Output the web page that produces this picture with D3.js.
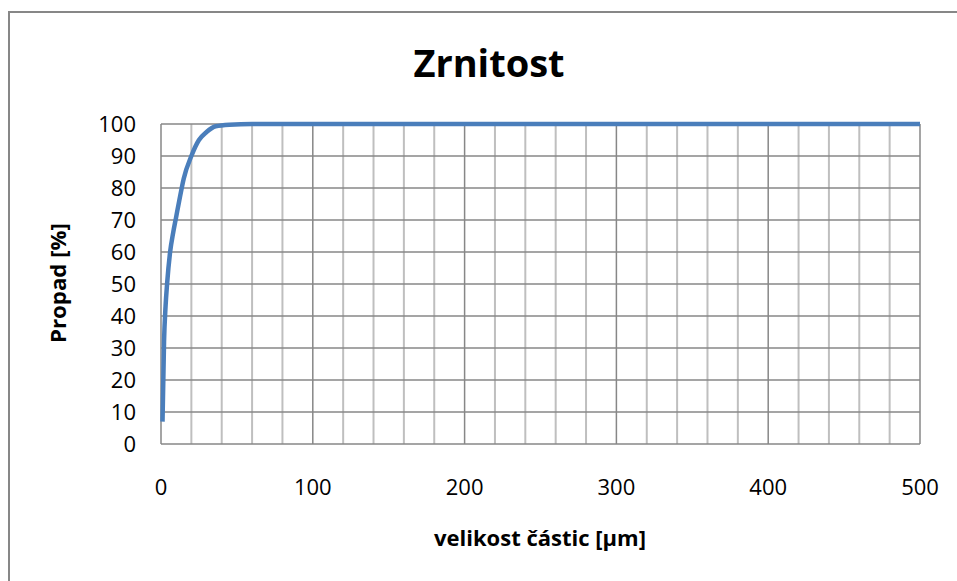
<!DOCTYPE html>
<html>
<head>
<meta charset="utf-8">
<script src="https://cdn.jsdelivr.net/npm/d3@7"></script>
<style>
  body { margin: 0; background: #fff; }
  text { font-family: "Open Sans", "Noto Sans", sans-serif; }
</style>
</head>
<body>
<div id="chart"></div>
<script>
// particle size [µm] and passing fraction [%]
let sizes = [1, 2, 3, 4, 6, 8, 10, 12, 15, 20, 25, 30, 36, 45, 60, 100, 200, 300, 400, 500];
let propad = [7, 32, 43, 50, 60, 66, 71, 76, 83, 90, 95, 97.5, 99.3, 99.8, 100, 100, 100, 100, 100, 100];
let xTicks = [0, 100, 200, 300, 400, 500];
let yTicks = [0, 10, 20, 30, 40, 50, 60, 70, 80, 90, 100];

let W = 957, H = 581;
let margin = { left: 161, top: 124 };
let chart_width = 920 - 161;
let chart_height = 444 - 124;

let svg = d3.select("#chart").append("svg")
  .attr("width", W)
  .attr("height", H);

// outer frame (only left and top edges are inside the picture)
svg.append("rect")
  .attr("x", 9).attr("y", 12)
  .attr("width", 1000).attr("height", 620)
  .attr("fill", "none")
  .attr("stroke", "#878787")
  .attr("stroke-width", 2);

let g = svg.append("g")
  .attr("transform", `translate(${margin.left},${margin.top})`);

let x = d3.scaleLinear().domain([0, 500]).range([0, chart_width]);
let y = d3.scaleLinear().domain([0, 100]).range([chart_height, 0]);

// minor vertical grid every 20
g.append("g").selectAll("line")
  .data(d3.range(20, 500, 20).filter(v => v % 100 !== 0))
  .enter().append("line")
  .attr("x1", d => x(d)).attr("x2", d => x(d))
  .attr("y1", 0).attr("y2", chart_height)
  .attr("stroke", "#bfbfbf")
  .attr("stroke-width", 2);

// major vertical grid
g.append("g").selectAll("line")
  .data(xTicks)
  .enter().append("line")
  .attr("x1", d => x(d)).attr("x2", d => x(d))
  .attr("y1", 0).attr("y2", chart_height)
  .attr("stroke", "#878787")
  .attr("stroke-width", 1.5);

// horizontal grid
g.append("g").selectAll("line")
  .data(yTicks)
  .enter().append("line")
  .attr("x1", 0).attr("x2", chart_width)
  .attr("y1", d => y(d)).attr("y2", d => y(d))
  .attr("stroke", "#878787")
  .attr("stroke-width", 1.5);

// tick labels
g.append("g").selectAll("text")
  .data(yTicks)
  .enter().append("text")
  .attr("x", -25)
  .attr("y", d => y(d))
  .attr("dy", "0.36em")
  .attr("text-anchor", "end")
  .attr("font-size", "22px")
  .text(d => d);

g.append("g").selectAll("text")
  .data(xTicks)
  .enter().append("text")
  .attr("x", d => x(d))
  .attr("y", chart_height + 51)
  .attr("text-anchor", "middle")
  .attr("font-size", "22px")
  .text(d => d);

// data line
let line = d3.line()
  .x((d, i) => x(sizes[i]))
  .y(d => y(d))
  .curve(d3.curveMonotoneX);

g.append("path")
  .datum(propad)
  .attr("d", line)
  .attr("fill", "none")
  .attr("stroke", "#4a7ebb")
  .attr("stroke-width", 4.5)
  .attr("stroke-linejoin", "round");

// titles
svg.append("text")
  .attr("x", 489).attr("y", 77)
  .attr("text-anchor", "middle")
  .attr("font-size", "38px")
  .attr("font-weight", "bold")
  .text("Zrnitost");

svg.append("text")
  .attr("x", 540).attr("y", 546)
  .attr("text-anchor", "middle")
  .attr("font-size", "21px")
  .attr("font-weight", "bold")
  .attr("textLength", 212)
  .attr("lengthAdjust", "spacingAndGlyphs")
  .text("velikost částic [µm]");

svg.append("text")
  .attr("transform", "translate(66,283) rotate(-90)")
  .attr("text-anchor", "middle")
  .attr("font-size", "22px")
  .attr("font-weight", "bold")
  .attr("textLength", 120)
  .attr("lengthAdjust", "spacingAndGlyphs")
  .text("Propad [%]");
</script>
</body>
</html>
